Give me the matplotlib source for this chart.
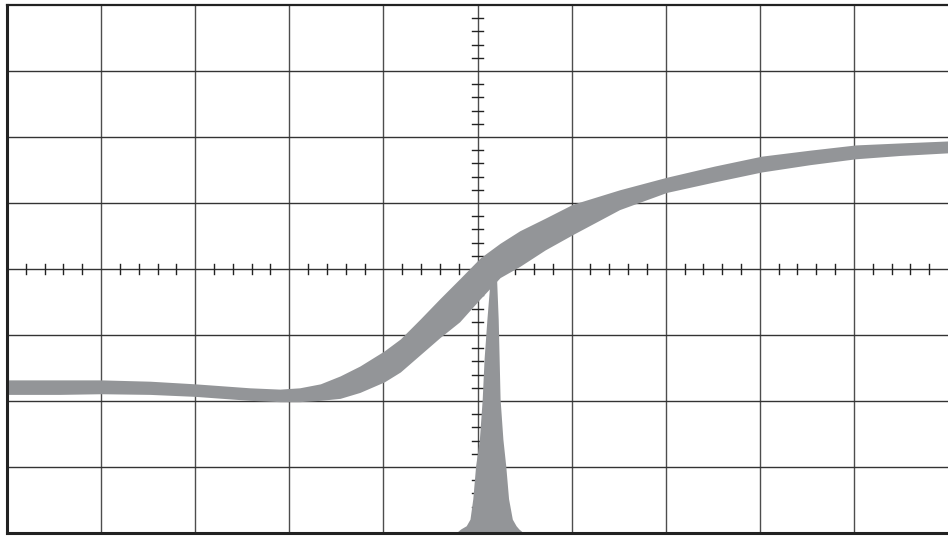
import numpy as np
import matplotlib.pyplot as plt

# graticule: 10 x 8 divisions, centred on 0
x_divs = np.arange(-5, 6)
y_divs = np.arange(-4, 5)

# trace band (in divisions), upper and lower edges
trace_x = [-5.00, -4.44, -4.00, -3.48, -3.00, -2.42, -2.10, -1.89, -1.67, -1.46,
           -1.25, -0.99, -0.82, -0.61, -0.40, -0.19, 0.03, 0.24, 0.45, 0.72,
           1.01, 1.51, 2.01, 2.52, 3.02, 3.53, 4.02, 4.49, 5.00]
trace_upper = [-1.68, -1.68, -1.68, -1.70, -1.74, -1.80, -1.82, -1.80, -1.74, -1.62,
               -1.47, -1.24, -1.06, -0.76, -0.45, -0.15, 0.17, 0.39, 0.58, 0.77,
               0.98, 1.20, 1.39, 1.56, 1.71, 1.80, 1.88, 1.91, 1.94]
trace_lower = [-1.90, -1.90, -1.89, -1.90, -1.93, -1.99, -2.01, -2.01, -1.99, -1.96,
               -1.87, -1.71, -1.56, -1.30, -1.04, -0.80, -0.45, -0.13, 0.04, 0.29,
               0.52, 0.90, 1.16, 1.32, 1.47, 1.58, 1.67, 1.72, 1.76]

# spike coming up from the bottom
spike_y = [-0.05, -0.76, -1.36, -1.97, -2.58, -2.98, -3.48, -3.79, -3.89, -3.94, -4.0]
spike_left = [0.14, 0.10, 0.07, 0.05, 0.02, -0.02, -0.05, -0.08, -0.12, -0.18, -0.23]
spike_right = [0.20, 0.22, 0.23, 0.24, 0.27, 0.30, 0.33, 0.37, 0.41, 0.44, 0.49]

trace_color = '#939598'

fig = plt.figure(figsize=(9.48, 5.36), dpi=100)
ax = fig.add_axes([7 / 948, 3 / 536, 941 / 948, 528 / 536])
ax.set_xlim(-5, 5)
ax.set_ylim(-4, 4)

# major grid
for xv in x_divs[1:-1]:
    ax.axvline(xv, color='#4d4d4d', lw=1.0, zorder=1)
for yv in y_divs[1:-1]:
    ax.axhline(yv, color='#333333', lw=1.0, zorder=1)

# minor ticks on centre axes
minor_x = [x for x in np.arange(-5, 5.01, 0.2) if abs(x - round(x)) > 0.05]
minor_y = [y for y in np.arange(-4, 4.01, 0.2) if abs(y - round(y)) > 0.05]
for xv in minor_x:
    ax.plot([xv, xv], [-0.076, 0.076], color='#222222', lw=1.0, zorder=1)
for yv in minor_y:
    ax.plot([-0.058, 0.058], [yv, yv], color='#222222', lw=1.0, zorder=1)

# trace
ax.fill_between(trace_x, trace_lower, trace_upper, color=trace_color, lw=0, zorder=3)
ax.fill_betweenx(spike_y, spike_left, spike_right, color=trace_color, lw=0, zorder=3)

ax.set_xticks([])
ax.set_yticks([])
ax.spines['right'].set_visible(False)
ax.spines['left'].set_linewidth(2.2)
ax.spines['bottom'].set_linewidth(2.2)
ax.spines['top'].set_linewidth(1.6)
for s in ['left', 'bottom', 'top']:
    ax.spines[s].set_color('#222222')
    ax.spines[s].set_zorder(4)

fig.savefig('out.png', dpi=100)
